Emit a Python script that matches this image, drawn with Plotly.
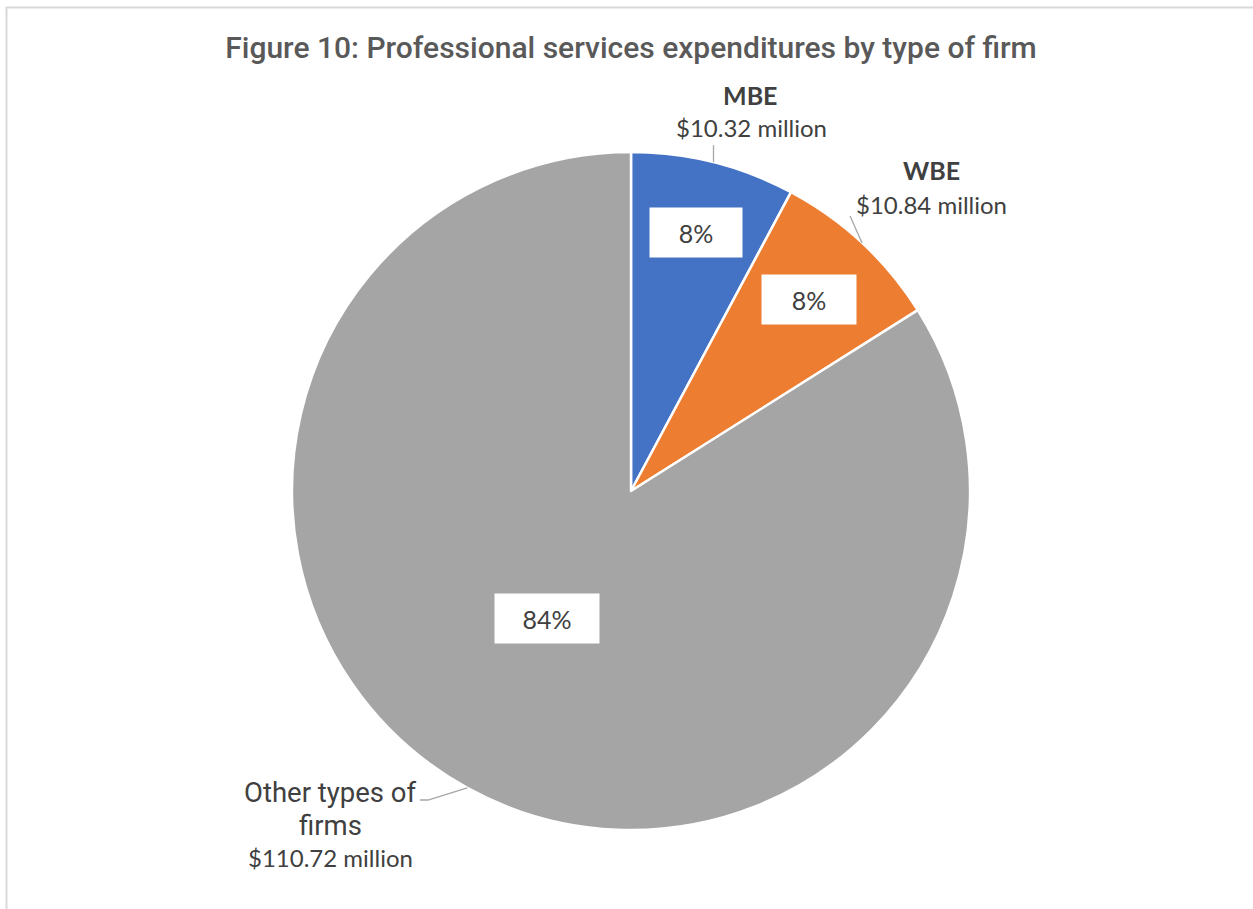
import math
import plotly.graph_objects as go

# Expenditure data (USD millions)
categories = ["MBE", "WBE", "Other types of firms"]
values = [10.32, 10.84, 110.72]
amount_labels = ["$10.32 million", "$10.84 million", "$110.72 million"]
colors = ["#4472C4", "#ED7D31", "#A5A5A5"]

W, H = 1253, 909
CX, CY, R = 631, 491, 339  # pie centre and radius in pixels


def px(x):
    return x / W


def py(y):
    return 1 - y / H


total = sum(values)
shares = [v / total for v in values]

fig = go.Figure(
    go.Pie(
        labels=categories,
        values=values,
        sort=False,
        direction="clockwise",
        rotation=0,
        marker=dict(colors=colors, line=dict(color="white", width=2.5)),
        textinfo="none",
        hoverinfo="label+value+percent",
        showlegend=False,
        domain=dict(x=[px(CX - R), px(CX + R)], y=[py(CY + R), py(CY - R)]),
    )
)

# mid-angle of each slice, measured clockwise from 12 o'clock
mid_angles = []
acc = 0.0
for s in shares:
    mid_angles.append((acc + s / 2) * 2 * math.pi)
    acc += s


def polar(frac, ang):
    return CX + frac * R * math.sin(ang), CY - frac * R * math.cos(ang)


def text_ann(x, y, text, font, **kw):
    return dict(x=px(x), y=py(y), xref="paper", yref="paper", text=text,
                showarrow=False, font=font, xanchor="center", yanchor="middle", **kw)


annotations = []
shapes = []

# percentage boxes inside the slices
pct_radius = [0.785, 0.77, 0.45]
pct_angle_shift = [0.0, 0.0, 4.6]  # degrees
pct_box_w = [92, 94, 104]
pct_font = dict(family="Lato", size=25, color="#404040")
for s, ang, rf, da, bw in zip(shares, mid_angles, pct_radius, pct_angle_shift, pct_box_w):
    x, y = polar(rf, ang + math.radians(da))
    annotations.append(text_ann(x, y, f"{round(s * 100)}%", pct_font,
                                bgcolor="white", width=bw, height=49, borderpad=0))

# outside category labels with leader lines
label_font_bold = dict(family="Lato", size=25, color="#404040")
amount_font = dict(family="Lato", size=24, color="#404040")
other_font = dict(family="Roboto", size=27.5, color="#404040")
leader = dict(color="#A6A6A6", width=1.3)

# MBE
ex, ey = polar(1.0, mid_angles[0])
shapes.append(dict(type="line", xref="paper", yref="paper",
                   x0=px(ex), y0=py(ey), x1=px(ex), y1=py(ey - 17), line=leader))
annotations.append(text_ann(750, 95, f"<b>{categories[0]}</b>", label_font_bold))
annotations.append(text_ann(751, 128, amount_labels[0], amount_font))

# WBE
ex, ey = polar(1.0, mid_angles[1])
shapes.append(dict(type="line", xref="paper", yref="paper",
                   x0=px(ex), y0=py(ey), x1=px(ex - 12), y1=py(ey - 27), line=leader))
annotations.append(text_ann(932, 170, f"<b>{categories[1]}</b>", label_font_bold))
annotations.append(text_ann(932, 204, amount_labels[1], amount_font))

# Other types of firms
ex, ey = polar(1.0, mid_angles[2])
shapes.append(dict(type="path", xref="paper", yref="paper",
                   path=f"M {px(ex)} {py(ey)} L {px(428)} {py(800)} L {px(420)} {py(800)}",
                   line=leader))
annotations.append(text_ann(330, 792, "Other types of", other_font))
annotations.append(text_ann(330, 825, "firms", other_font))
annotations.append(text_ann(330, 857, amount_labels[2], amount_font))

# chart area border
shapes.append(dict(type="line", xref="paper", yref="paper",
                   x0=px(6), y0=py(7.5), x1=px(1260), y1=py(7.5),
                   line=dict(color="#D9D9D9", width=2)))
shapes.append(dict(type="line", xref="paper", yref="paper",
                   x0=px(6.5), y0=py(7), x1=px(6.5), y1=py(920),
                   line=dict(color="#D9D9D9", width=2)))

fig.update_layout(
    width=W, height=H,
    margin=dict(l=0, r=0, t=0, b=0),
    paper_bgcolor="white",
    plot_bgcolor="white",
    title=dict(
        text="Figure 10: Professional services expenditures by type of firm",
        x=px(631), y=py(47), xanchor="center", yanchor="middle",
        font=dict(family="Roboto", size=30, color="#595959", weight=500),
    ),
    annotations=annotations,
    shapes=shapes,
)

fig.write_html("out.html")
